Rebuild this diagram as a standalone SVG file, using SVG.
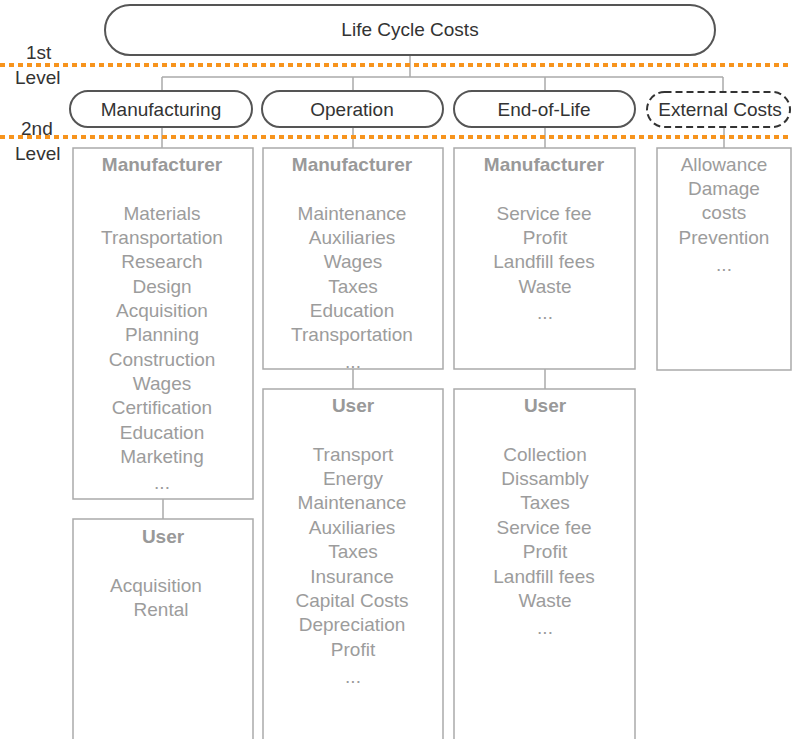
<svg xmlns="http://www.w3.org/2000/svg" width="792" height="739" viewBox="0 0 792 739">
<style>
text{font-family:"Liberation Sans",Arial,sans-serif;font-size:19px;text-anchor:middle}
.dark{fill:#333}
.g{fill:#9c9c9c}
.h{fill:#999;font-weight:bold}
.lv{fill:#333;text-anchor:start}
.pill{fill:#fff;stroke:#555;stroke-width:2}
.dash{fill:#fff;stroke:#333;stroke-width:2;stroke-dasharray:7 4}
.box{fill:#fff;stroke:#aaa;stroke-width:1.5}
.conn{fill:none;stroke:#aaa;stroke-width:1.5}
.lvl{stroke:#F7941D;stroke-width:4;stroke-dasharray:5 4}
</style>
<rect width="792" height="739" fill="#fff"/>
<g id="connectors">
<path class="conn" d="M410 55V77M162 77H723M162 77V91M353 77V91M545 77V91M723 77V92"/>
<path class="conn" d="M162 127V148M353 127V148M545 127V148M724 127V148M163 499V519M353 369V389M545 369V389"/>
</g>
<g id="root"><rect class="pill" x="105" y="5" width="610" height="50" rx="25"/><text class="dark" x="410" y="36">Life Cycle Costs</text></g>
<g id="manufacturing"><rect class="pill" x="70" y="91" width="182" height="36" rx="18"/><text class="dark" x="161" y="116">Manufacturing</text></g>
<g id="operation"><rect class="pill" x="262" y="91" width="181" height="36" rx="18"/><text class="dark" x="352" y="116">Operation</text></g>
<g id="endoflife"><rect class="pill" x="454" y="91" width="181" height="36" rx="18"/><text class="dark" x="544" y="116">End-of-Life</text></g>
<g id="external"><rect class="dash" x="647" y="92" width="143" height="35" rx="17.5"/><text class="dark" x="720" y="116">External Costs</text></g>
<g id="mfg-manufacturer"><rect class="box" x="73" y="148" width="180" height="351"/>
<text class="h" x="162" y="171">Manufacturer</text>
<text class="g" x="162" y="220">Materials</text><text class="g" x="162" y="244">Transportation</text><text class="g" x="162" y="268">Research</text><text class="g" x="162" y="293">Design</text><text class="g" x="162" y="317">Acquisition</text><text class="g" x="162" y="341">Planning</text><text class="g" x="162" y="366">Construction</text><text class="g" x="162" y="390">Wages</text><text class="g" x="162" y="414">Certification</text><text class="g" x="162" y="439">Education</text><text class="g" x="162" y="463">Marketing</text><text class="g" x="162" y="489">...</text></g>
<g id="mfg-user"><rect class="box" x="73" y="519" width="180" height="230"/>
<text class="h" x="163" y="543">User</text>
<text class="g" x="156" y="592">Acquisition</text><text class="g" x="161" y="616">Rental</text></g>
<g id="op-manufacturer"><rect class="box" x="263" y="148" width="180" height="221"/>
<text class="h" x="352" y="171">Manufacturer</text>
<text class="g" x="352" y="220">Maintenance</text><text class="g" x="352" y="244">Auxiliaries</text><text class="g" x="353" y="268">Wages</text><text class="g" x="353" y="293">Taxes</text><text class="g" x="352" y="317">Education</text><text class="g" x="352" y="341">Transportation</text><text class="g" x="353" y="368">...</text></g>
<g id="op-user"><rect class="box" x="263" y="389" width="180" height="360"/>
<text class="h" x="353" y="412">User</text>
<text class="g" x="353" y="461">Transport</text><text class="g" x="353" y="485">Energy</text><text class="g" x="352" y="509">Maintenance</text><text class="g" x="352" y="534">Auxiliaries</text><text class="g" x="353" y="558">Taxes</text><text class="g" x="352" y="583">Insurance</text><text class="g" x="352" y="607">Capital Costs</text><text class="g" x="352" y="631">Depreciation</text><text class="g" x="353" y="656">Profit</text><text class="g" x="353" y="683">...</text></g>
<g id="eol-manufacturer"><rect class="box" x="454" y="148" width="181" height="221"/>
<text class="h" x="544" y="171">Manufacturer</text>
<text class="g" x="544" y="220">Service fee</text><text class="g" x="545" y="244">Profit</text><text class="g" x="544" y="268">Landfill fees</text><text class="g" x="545" y="293">Waste</text><text class="g" x="545" y="319">...</text></g>
<g id="eol-user"><rect class="box" x="454" y="389" width="181" height="360"/>
<text class="h" x="545" y="412">User</text>
<text class="g" x="545" y="461">Collection</text><text class="g" x="545" y="485">Dissambly</text><text class="g" x="545" y="509">Taxes</text><text class="g" x="544" y="534">Service fee</text><text class="g" x="545" y="558">Profit</text><text class="g" x="544" y="583">Landfill fees</text><text class="g" x="545" y="607">Waste</text><text class="g" x="545" y="634">...</text></g>
<g id="ext-items"><rect class="box" x="657" y="148" width="134" height="222"/>
<text class="g" x="724" y="171">Allowance</text><text class="g" x="724" y="195">Damage</text><text class="g" x="724" y="219">costs</text><text class="g" x="724" y="244">Prevention</text><text class="g" x="724" y="271">...</text></g>
<g id="levels">
<line class="lvl" x1="0" y1="65" x2="792" y2="65"/>
<line class="lvl" x1="0" y1="137" x2="792" y2="137"/>
<text class="lv" x="26" y="59">1st</text><text class="lv" x="15" y="84">Level</text>
<text class="lv" x="21" y="135">2nd</text><text class="lv" x="15" y="160">Level</text>
</g>
</svg>
